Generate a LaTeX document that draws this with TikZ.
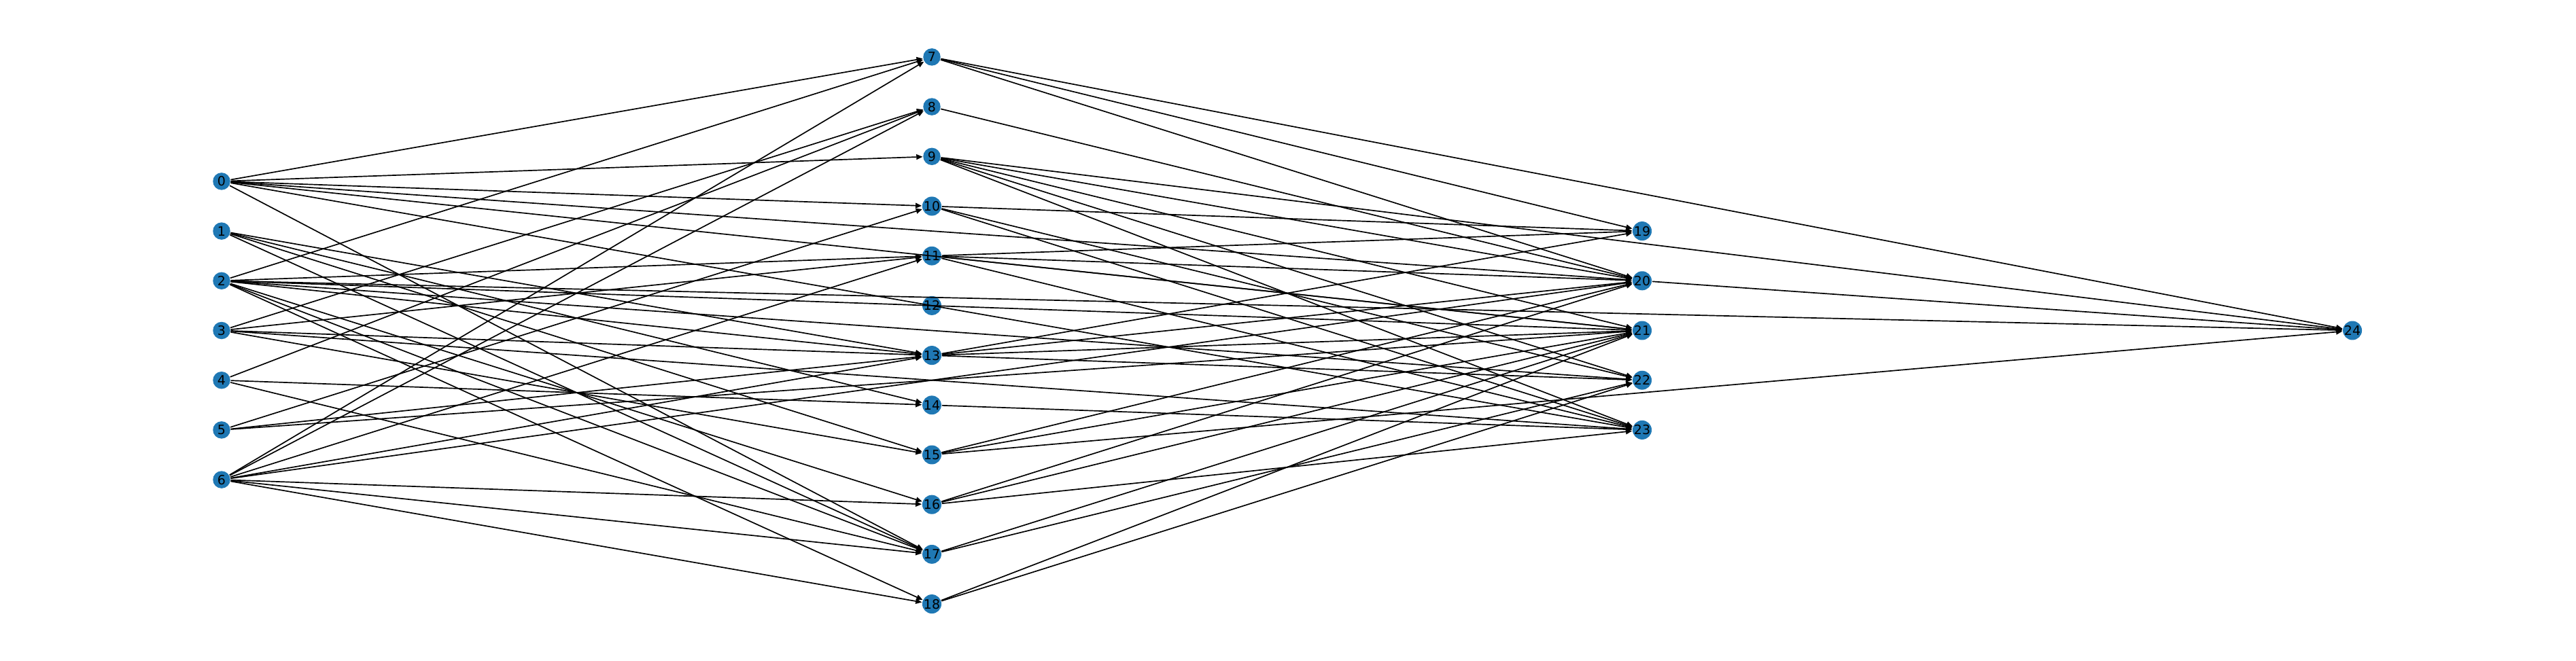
\documentclass[tikz,border=0pt]{standalone}
\usepackage{fontspec}
\setmainfont{DejaVu Sans}
\usepackage{xcolor}
\usepackage{tikz}
\usetikzlibrary{positioning, arrows.meta}

\definecolor{nxblue}{HTML}{1F78B4}

\begin{document}
\begin{tikzpicture}[node distance=0.732cm,on grid,
    vertex/.style={circle,fill=nxblue,minimum size=0.255cm,inner sep=0pt,
      font=\fontsize{5.4}{6}\selectfont},
    >={Triangle[length=2.6pt,width=2.2pt]},line width=0.48pt]
  \useasboundingbox (0,0) rectangle (37.9,-9.73);
  % layer 0
  \node[vertex] (n0) at (3.26,-2.669) {0};
  \node[vertex] (n1) [below=of n0] {1};
  \node[vertex] (n2) [below=of n1] {2};
  \node[vertex] (n3) [below=of n2] {3};
  \node[vertex] (n4) [below=of n3] {4};
  \node[vertex] (n5) [below=of n4] {5};
  \node[vertex] (n6) [below=of n5] {6};
  % layer 1
  \node[vertex] (n7) at (13.71,-0.839) {7};
  \node[vertex] (n8) [below=of n7] {8};
  \node[vertex] (n9) [below=of n8] {9};
  \node[vertex] (n10) [below=of n9] {10};
  \node[vertex] (n11) [below=of n10] {11};
  \node[vertex] (n12) [below=of n11] {12};
  \node[vertex] (n13) [below=of n12] {13};
  \node[vertex] (n14) [below=of n13] {14};
  \node[vertex] (n15) [below=of n14] {15};
  \node[vertex] (n16) [below=of n15] {16};
  \node[vertex] (n17) [below=of n16] {17};
  \node[vertex] (n18) [below=of n17] {18};
  % layer 2
  \node[vertex] (n19) at (24.16,-3.401) {19};
  \node[vertex] (n20) [below=of n19] {20};
  \node[vertex] (n21) [below=of n20] {21};
  \node[vertex] (n22) [below=of n21] {22};
  \node[vertex] (n23) [below=of n22] {23};
  % layer 3
  \node[vertex] (n24) at (34.61,-4.865) {24};

  \path[->]
  (n0) edge (n7) edge (n9) edge (n10) edge (n17)
       edge (n20) edge (n21) edge (n23)
  (n1) edge (n13) edge (n14) edge (n15) edge (n17)
  (n2) edge (n7) edge (n11) edge (n13) edge (n16) edge (n17) edge (n18)
       edge (n21) edge (n22) edge (n24)
  (n3) edge (n8) edge (n11) edge (n13) edge (n15) edge (n23)
  (n4) edge (n8) edge (n14) edge (n17)
  (n5) edge (n10) edge (n13) edge (n21)
  (n6) edge (n7) edge (n8) edge (n11) edge (n13) edge (n16) edge (n17)
       edge (n18) edge (n20)
  (n7) edge (n19) edge (n20) edge (n24)
  (n8) edge (n20)
  (n9) edge (n20) edge (n21) edge (n22) edge (n23) edge (n24)
  (n10) edge (n19) edge (n22) edge (n23)
  (n11) edge (n19) edge (n20) edge (n21) edge (n23)
  (n13) edge (n19) edge (n20) edge (n21) edge (n22)
  (n14) edge (n23)
  (n15) edge (n20) edge (n21) edge (n24)
  (n16) edge (n20) edge (n21) edge (n23)
  (n17) edge (n21) edge (n22)
  (n18) edge (n21) edge (n22)
  (n20) edge (n24);
\end{tikzpicture}
\end{document}
